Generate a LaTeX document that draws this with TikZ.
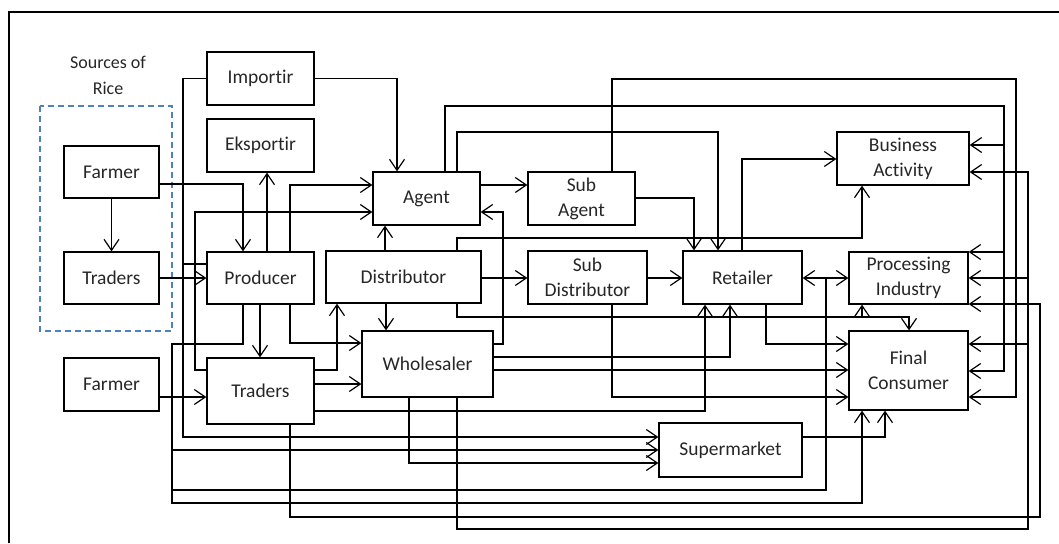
\documentclass[tikz,border=0pt]{standalone}
\usepackage{fontspec}
\setmainfont{Carlito}[Ligatures={NoCommon,NoContextual}]
\usetikzlibrary{arrows.meta}

\begin{document}
\begin{tikzpicture}[x=1pt,y=-1pt,
  box/.style={draw, line width=1.3pt, inner sep=0pt, align=center,
    font=\fontsize{19.5}{25}\selectfont, text=black!85},
  ln/.style={line width=1.25pt},
  arr/.style={ln, -{Straight Barb[length=11pt,width=15pt,line width=1.2pt]}},
  arrb/.style={ln, {Straight Barb[length=11pt,width=15pt,line width=1.2pt]}-{Straight Barb[length=11pt,width=15pt,line width=1.2pt]}}]
\useasboundingbox (0,0) rectangle (1059,543);

% outer frame
\draw[line width=2.2pt] (9,543) -- (9,12) -- (1059,12);

% sources of rice group
\node[font=\fontsize{18}{26}\selectfont, align=center, text=black!85] (srclbl) at (108,75) {Sources of\\Rice};
\draw[dashed, dash pattern=on 6pt off 4pt, line width=1.1pt, color={rgb,255:red,79;green,129;blue,189}]
  (40,106) rectangle (172,331);

% actors
\node[box, minimum width=95pt, minimum height=52pt] (farmerA) at (111.5,172) {Farmer};
\node[box, minimum width=95pt, minimum height=52pt] (tradersA) at (111.5,278) {Traders};
\node[box, minimum width=95pt, minimum height=53pt] (farmerB) at (111.5,384.5) {Farmer};
\node[box, minimum width=107pt, minimum height=53pt] (importir) at (260.5,78.5) {Importir};
\node[box, minimum width=107pt, minimum height=53pt] (eksportir) at (260.5,145.5) {Eksportir};
\node[box, minimum width=107pt, minimum height=52pt] (producer) at (260.5,278) {Producer};
\node[box, minimum width=107pt, minimum height=66pt] (tradersB) at (260.5,391) {Traders};
\node[box, minimum width=107pt, minimum height=53pt] (agent) at (426.5,198.5) {Agent};
\node[box, minimum width=107pt, minimum height=53pt] (subagent) at (581.5,198.5) {Sub\\Agent};
\node[box, minimum width=155pt, minimum height=52pt] (distributor) at (403.5,277) {Distributor};
\node[box, minimum width=119pt, minimum height=53pt] (subdist) at (587.5,277.5) {Sub\\Distributor};
\node[box, minimum width=119pt, minimum height=53pt] (retailer) at (742.5,277.5) {Retailer};
\node[box, minimum width=119pt, minimum height=52pt] (processing) at (908.5,278) {Processing\\Industry};
\node[box, minimum width=132pt, minimum height=53pt] (business) at (903,158.5) {Business\\Activity};
\node[box, minimum width=119pt, minimum height=79pt] (final) at (908.5,370.5) {Final\\Consumer};
\node[box, minimum width=131pt, minimum height=66pt] (wholesaler) at (427.5,364) {Wholesaler};
\node[box, minimum width=143pt, minimum height=54pt] (supermarket) at (730.5,450) {Supermarket};

% routing lanes
\foreach \v in {172,183,195,243,260,267,290,337,385,386,397,409,445,457,503,612,
  694,705,718,730,742,766,826,862,885,909,1004,1016,1028,1040}
  \coordinate (x\v) at (\v,0);
\foreach \v in {79,106,132,145,159,172,184,185,198,212,238,252,264,278,304,317,
  343,344,357,370,371,384,397,411,437,450,463,490,503,517,529}
  \coordinate (y\v) at (0,\v);

% farmers and traders into the producer
\draw[arr] (farmerA) -- (tradersA);
\draw[arr] (farmerA.east |- y184) -| (producer.north -| x243);
\draw[arr] (tradersA) -- (producer);
\draw[arr] (farmerB.east |- y397) -- (tradersB.west |- y397);

% importir
\draw[arr] (importir.west) -| (x183 |- y437) -- (supermarket.west |- y437);
\draw[ln] (producer.west |- y264) -- (x183 |- y264);
\draw[arr] (importir.east) -| (agent.north -| x397);

% producer
\draw[arr] (producer.north -| x267) -- (eksportir.south -| x267);
\draw[arr] (producer.north -| x290) |- (agent.west |- y185);
\draw[arr] (producer.south -| x260) -- (tradersB.north -| x260);
\draw[arr] (producer.south -| x243) |- (x172 |- y344) -- (x172 |- y503) -| (final.south -| x862);
\draw[arr] (x172 |- y450) -- (supermarket.west |- y450);
\draw[ln] (x172 |- y490) -| (x826 |- y278);
\draw[arr] (producer.south -| x290) |- (wholesaler.west |- y343);

% traders
\draw[arr] (tradersB.west |- y370) -| (x195 |- y212) -- (agent.west |- y212);
\draw[arr] (tradersB.east |- y370) -| (distributor.south -| x337);
\draw[arr] (tradersB.east |- y384) -- (wholesaler.west |- y384);
\draw[arr] (tradersB.east |- y411) -| (retailer.south -| x705);
\draw[arr] (tradersB.south -| x290) |- (x1040 |- y517) |- (processing.east |- y304);

% distributor
\draw[arr] (distributor.north -| x385) -- (agent.south -| x385);
\draw[arr] (distributor.north -| x457) |- (x862 |- y238) -- (business.south -| x862);
\draw[arr] (distributor.east |- y278) -- (subdist.west |- y278);
\draw[arr] (distributor.south -| x386) -- (wholesaler.north -| x386);
\draw[arr] (distributor.south -| x457) |- (x909 |- y317) -- (final.north -| x909);
\draw[arr] (x862 |- y317) -- (processing.south -| x862);

% agent and sub agent
\draw[arr] (agent.east |- y185) -- (subagent.west |- y185);
\draw[arr] (agent.north -| x445) |- (x1004 |- y106) |- (final.east |- y371);
\draw[arr] (x1004 |- y145) -- (business.east |- y145);
\draw[arr] (x1004 |- y252) -- (processing.east |- y252);
\draw[arr] (agent.north -| x457) |- (x718 |- y132) -- (retailer.north -| x718);
\draw[arr] (subagent.north -| x612) |- (x1016 |- y79) |- (final.east |- y397);
\draw[arr] (subagent.east |- y198) -| (retailer.north -| x694);

% sub distributor
\draw[arr] (subdist.east |- y278) -- (retailer.west |- y278);
\draw[arr] (subdist.south -| x612) |- (final.west |- y397);

% retailer
\draw[arr] (retailer.north -| x742) |- (business.west |- y159);
\draw[arrb] (retailer.east |- y278) -- (processing.west |- y278);
\draw[arr] (retailer.south -| x766) |- (final.west |- y344);

% wholesaler
\draw[arr] (wholesaler.east |- y344) -| (x503 |- y212) -- (agent.east |- y212);
\draw[arr] (wholesaler.east |- y357) -| (retailer.south -| x730);
\draw[arr] (wholesaler.east |- y370) -- (final.west |- y370);
\draw[arr] (wholesaler.south -| x409) |- (supermarket.west |- y463);
\draw[arr] (wholesaler.south -| x457) |- (x1028 |- y529) |- (business.east |- y172);
\draw[arr] (x1028 |- y278) -- (processing.east |- y278);
\draw[arr] (x1028 |- y344) -- (final.east |- y344);

% supermarket
\draw[arr] (supermarket.east |- y437) -| (final.south -| x885);
\end{tikzpicture}
\end{document}
